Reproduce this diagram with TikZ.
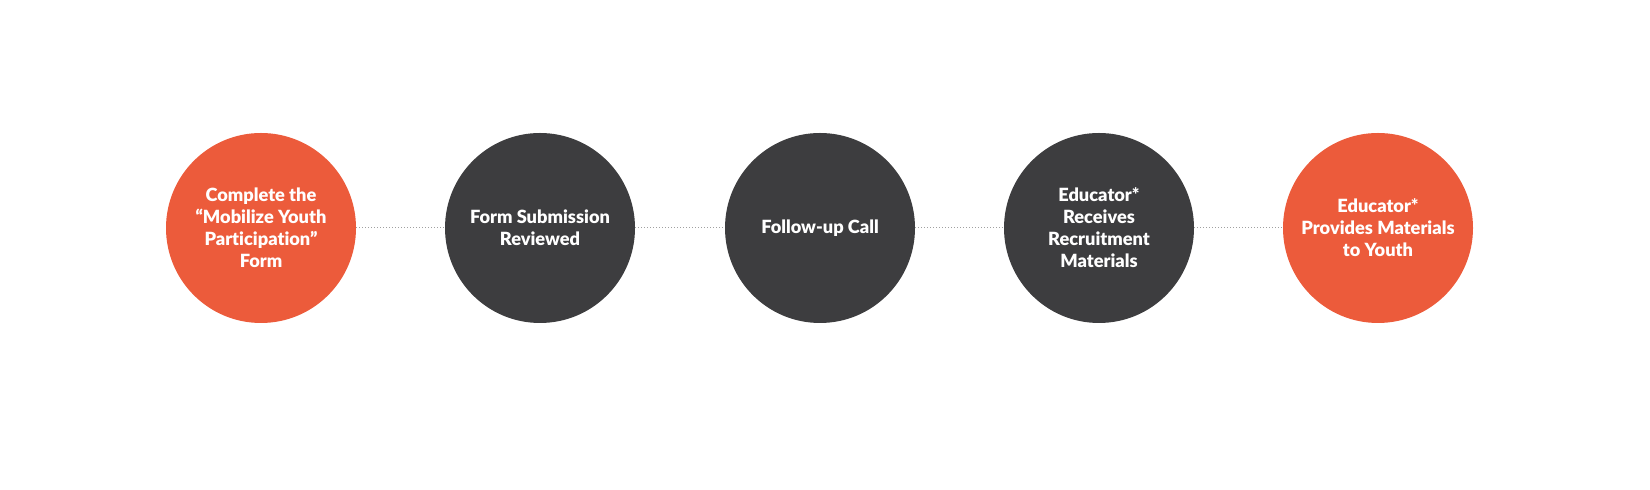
\documentclass[tikz,border=0pt]{standalone}
\usepackage{fontspec}
\setmainfont{Lato}[UprightFont=* Black, BoldFont=* Black, Ligatures={NoCommon}]
\definecolor{orangec}{HTML}{EC5B3B}
\definecolor{darkc}{HTML}{3D3D3F}
\definecolor{linec}{HTML}{A0A0A0}
\begin{document}
\begin{tikzpicture}[x=0.5pt,y=-0.5pt,
  stepcircle/.style={circle, minimum size=95pt, inner sep=0pt, text=white, align=center,
    font=\fontsize{9.1pt}{11pt}\selectfont},
  orangestep/.style={stepcircle, fill=orangec},
  darkstep/.style={stepcircle, fill=darkc},
  link/.style={draw=linec, line width=0.5pt, dash pattern=on 0.5pt off 1pt}]
\useasboundingbox (0,0) rectangle (1650,490);
\node[orangestep] (s1) at (261,228) {Complete the\\“Mobilize Youth\\Participation”\\Form};
\node[darkstep] (s2) at (540,228) {Form Submission\\Reviewed};
\node[darkstep] (s3) at (820,228) {Follow-up Call};
\node[darkstep] (s4) at (1099,228) {Educator*\\Receives\\Recruitment\\Materials};
\node[orangestep] (s5) at (1378,228) {Educator*\\Provides Materials\\to Youth};
\draw[link] (s1.east) -- (s2.west);
\draw[link] (s2.east) -- (s3.west);
\draw[link] (s3.east) -- (s4.west);
\draw[link] (s4.east) -- (s5.west);
\end{tikzpicture}
\end{document}
